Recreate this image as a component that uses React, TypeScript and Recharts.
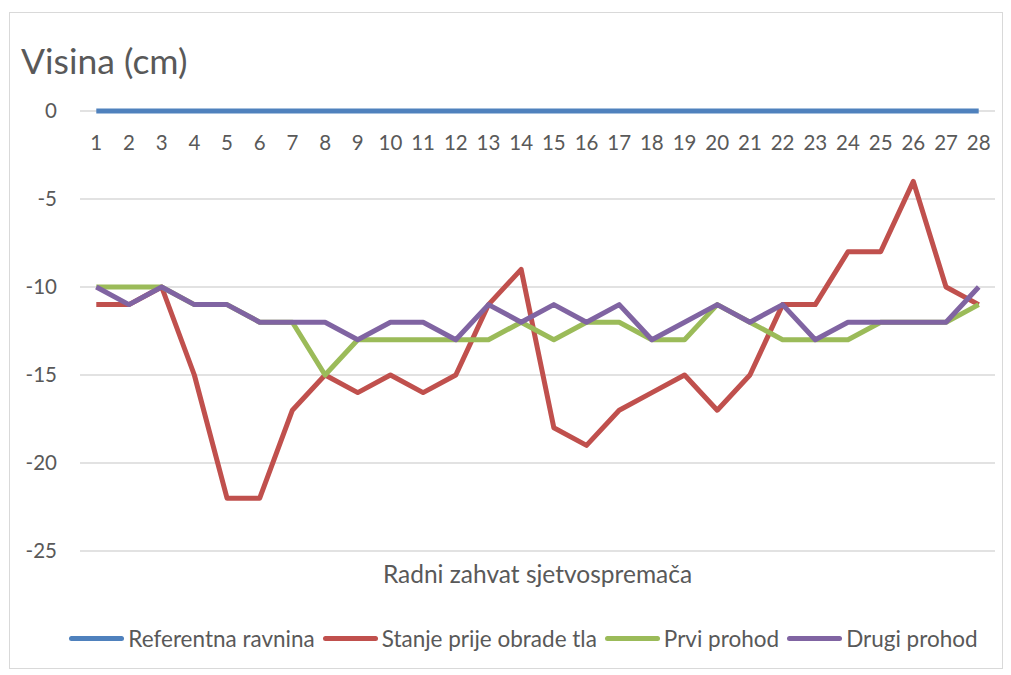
import React from "react";
import { LineChart, Line, XAxis, YAxis, CartesianGrid, Legend } from "recharts";

const categories = ["1","2","3","4","5","6","7","8","9","10","11","12","13","14","15","16","17","18","19","20","21","22","23","24","25","26","27","28"];
const referentna = [0,0,0,0,0,0,0,0,0,0,0,0,0,0,0,0,0,0,0,0,0,0,0,0,0,0,0,0];
const stanje = [-11,-11,-10,-15,-22,-22,-17,-15,-16,-15,-16,-15,-11,-9,-18,-19,-17,-16,-15,-17,-15,-11,-11,-8,-8,-4,-10,-11];
const prvi = [-10,-10,-10,-11,-11,-12,-12,-15,-13,-13,-13,-13,-13,-12,-13,-12,-12,-13,-13,-11,-12,-13,-13,-13,-12,-12,-12,-11];
const drugi = [-10,-11,-10,-11,-11,-12,-12,-12,-13,-12,-12,-13,-11,-12,-11,-12,-11,-13,-12,-11,-12,-11,-13,-12,-12,-12,-12,-10];
const yTicks = [0, -5, -10, -15, -20, -25];

const series = [
  { key: "ref", name: "Referentna ravnina", color: "#4F81BD", values: referentna },
  { key: "stanje", name: "Stanje prije obrade tla", color: "#C0504D", values: stanje },
  { key: "prvi", name: "Prvi prohod", color: "#9BBB59", values: prvi },
  { key: "drugi", name: "Drugi prohod", color: "#8064A2", values: drugi },
];

const data = categories.map((c, i) => {
  const row: any = { cat: c };
  series.forEach((s) => (row[s.key] = s.values[i]));
  return row;
});

const FONT = "Lato, sans-serif";
const TEXT = "#595959";
const PLOT_TOP = 111;

const XTick = (props: any) => {
  const { x, payload } = props;
  return (
    <text x={x} y={PLOT_TOP + 39} textAnchor="middle" fill={TEXT} fontSize={20.5} fontFamily={FONT}>
      {payload.value}
    </text>
  );
};

const LegendContent = () => (
  <div style={{ display: "flex", justifyContent: "center", alignItems: "center", fontFamily: FONT, fontSize: 22.5, color: TEXT, paddingLeft: 40 }}>
    {series.map((s) => (
      <div key={s.key} style={{ display: "flex", alignItems: "center", marginRight: 8 }}>
        <div style={{ width: 55, height: 5, borderRadius: 3, background: s.color, marginRight: 4 }} />
        <span>{s.name}</span>
      </div>
    ))}
  </div>
);

export default function App() {
  return (
    <div style={{ position: "absolute", left: 0, top: 0, width: 1011, height: 675, background: "#fff" }}>
      <div style={{ position: "absolute", left: 9, top: 12, width: 994, height: 657, border: "1px solid #d9d9d9", boxSizing: "border-box" }} />
      <div style={{ position: "absolute", left: 21, top: 41, fontFamily: FONT, fontSize: 35.5, color: TEXT, lineHeight: "40px" }}>
        Visina (cm)
      </div>
      <div style={{ position: "absolute", left: 0, width: 1075, top: 559, textAlign: "center", fontFamily: FONT, fontSize: 24.5, color: TEXT }}>
        Radni zahvat sjetvospremača
      </div>
      <LineChart width={1011} height={675} data={data} margin={{ top: PLOT_TOP - 1, right: 16, left: 20, bottom: 124 - 70 }} style={{ position: "absolute", left: 0, top: 0 }}>
        <CartesianGrid vertical={false} stroke="#d9d9d9" strokeWidth={1.5} />
        <XAxis dataKey="cat" orientation="top" height={1} padding={{ left: 16.3, right: 16.3 }} axisLine={false} tickLine={false} tick={<XTick />} interval={0} />
        <YAxis domain={[-25, 0]} ticks={yTicks} width={60} axisLine={false} tickLine={false} tickSize={0} tickMargin={23} tick={{ fill: TEXT, fontSize: 20.5, fontFamily: FONT }} />
        <Legend verticalAlign="bottom" height={70} content={<LegendContent />} wrapperStyle={{ top: 625 }} />
        {series.map((s) => (
          <Line key={s.key} dataKey={s.key} name={s.name} stroke={s.color} strokeWidth={5} dot={false} isAnimationActive={false} strokeLinejoin="round" />
        ))}
      </LineChart>
    </div>
  );
}
